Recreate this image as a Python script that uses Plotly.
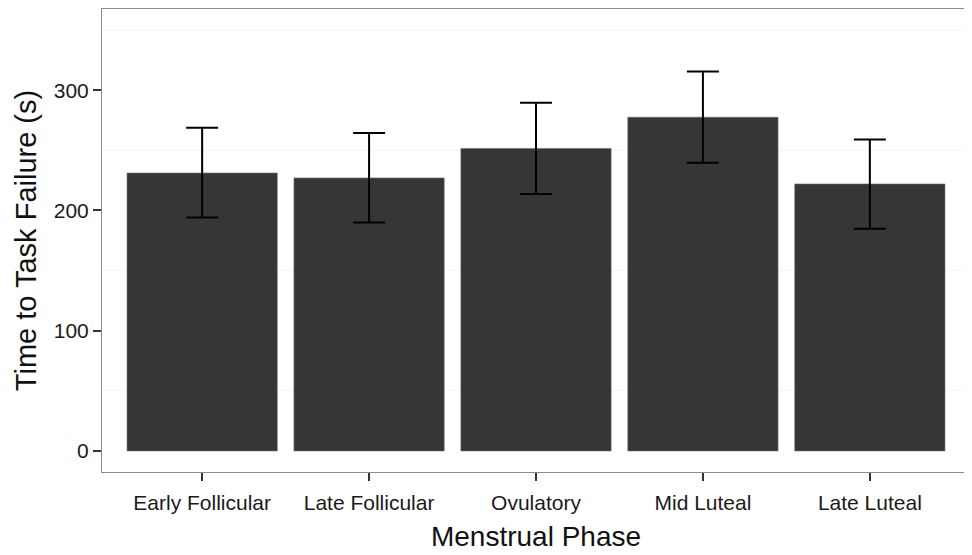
import plotly.graph_objects as go

phases = ["Early Follicular", "Late Follicular", "Ovulatory", "Mid Luteal", "Late Luteal"]
mean_ttf = [231.1, 227.0, 251.5, 277.5, 222.0]
err_upper = [268.7, 264.3, 289.6, 315.6, 259.0]
err_lower = [194.1, 190.0, 213.7, 239.7, 184.7]
y_ticks = [0, 100, 200, 300]
minor_grid = [50, 150, 250, 350]

plus = [u - m for u, m in zip(err_upper, mean_ttf)]
minus = [m - l for m, l in zip(mean_ttf, err_lower)]

fig = go.Figure()
fig.add_trace(go.Bar(
    x=list(range(1, 6)), y=mean_ttf, width=0.9,
    marker=dict(color="#363636", line=dict(color="#6a6a6a", width=0.6)),
    error_y=dict(type="data", symmetric=False, array=plus, arrayminus=minus,
                 color="#000000", thickness=2, width=16),
    showlegend=False, hoverinfo="skip",
))

font = "Liberation Sans, Arial, sans-serif"
# page body has an 8px margin, so the figure is shifted by 8px right and down
fig.update_layout(
    width=964, height=547,
    margin=dict(l=94, r=2, t=1, b=83),
    paper_bgcolor="white", plot_bgcolor="white",
    font=dict(family=font, color="#1a1a1a"),
    bargap=0.1,
)
fig.update_xaxes(
    range=[0.4, 5.6], tickvals=list(range(1, 6)), ticktext=phases,
    showgrid=False, zeroline=False, automargin=False,
    showline=True, mirror=True, linecolor="#8a8a8a", linewidth=1,
    ticks="outside", ticklen=8, tickwidth=2, tickcolor="#333333",
    tickfont=dict(size=21, family=font, color="#1a1a1a"),
    ticklabelstandoff=4,
    title=dict(text="Menstrual Phase", font=dict(size=28, family=font, color="#111111"), standoff=13),
)
fig.update_yaxes(
    range=[-17.5, 367.5], tickvals=y_ticks,
    showgrid=False, zeroline=False, automargin=False,
    showline=True, mirror=True, linecolor="#8a8a8a", linewidth=1,
    ticks="outside", ticklen=8, tickwidth=2, tickcolor="#333333",
    tickfont=dict(size=21, family=font, color="#1a1a1a"),
    minor=dict(tickvals=minor_grid, showgrid=True, gridcolor="#f4f4f4", gridwidth=1, ticks=""),
    title=dict(text="Time to Task Failure (s)", font=dict(size=29, family=font, color="#111111"), standoff=8),
)

fig.write_html("out.html")
